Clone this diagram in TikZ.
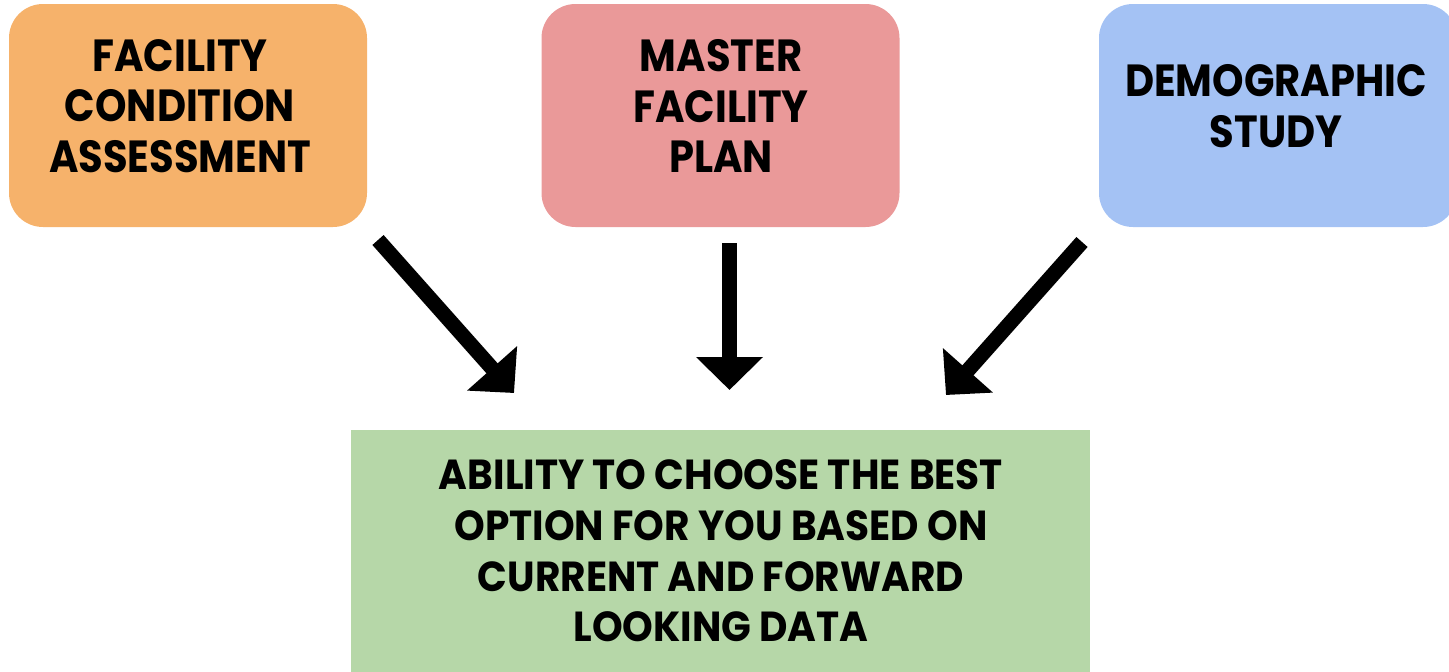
\documentclass[tikz,border=0pt]{standalone}
\usepackage{fontspec}
\setmainfont{Poppins}[BoldFont={* Bold}]
\newfontfamily\topfont{Poppins}[BoldFont={* Bold},FakeStretch=0.89]
\newfontfamily\botfont{Poppins}[BoldFont={* Bold},FakeStretch=0.93]
\usetikzlibrary{arrows.meta}
\definecolor{cOrange}{HTML}{F6B26B}
\definecolor{cPink}{HTML}{EA9999}
\definecolor{cBlue}{HTML}{A4C2F4}
\definecolor{cGreen}{HTML}{B6D7A8}
\tikzset{
  topbox/.style={rectangle, rounded corners=34pt, minimum width=358pt, minimum height=223pt, inner sep=0pt},
  toptext/.style={align=center, inner sep=0pt, font=\topfont\bfseries\fontsize{45}{50.5}\selectfont},
  bottext/.style={align=center, inner sep=0pt, font=\botfont\bfseries\fontsize{42}{50.7}\selectfont},
  blockarrow/.style={draw=black, line width=15pt, -{Triangle[width=65pt,length=33pt]}}
}
\begin{document}
\begin{tikzpicture}[x=1pt,y=-1pt]
\useasboundingbox (0,0) rectangle (1449,672);
\clip (0,0) rectangle (1449,672);
% boxes
\node[topbox, fill=cOrange] (fca) at (188,115.5) {};
\node[toptext] (fcaT) at (180,106) {FACILITY\\CONDITION\\ASSESSMENT};
\node[topbox, fill=cPink] (mfp) at (720.5,115.5) {};
\node[toptext] (mfpT) at (721,106) {MASTER\\FACILITY\\PLAN};
\node[topbox, fill=cBlue] (dem) at (1278,115.5) {};
\node[toptext] (demT) at (1276,106) {DEMOGRAPHIC\\STUDY};
\node[rectangle, fill=cGreen, minimum width=739pt, minimum height=260pt, inner sep=0pt] (res) at (720.5,560) {};
\node[bottext] (resT) at (721,551) {ABILITY TO CHOOSE THE BEST\\OPTION FOR YOU BASED ON\\CURRENT AND FORWARD\\LOOKING DATA};
% arrow coordinates
\coordinate (a1s) at (378,240);
\coordinate (a1e) at (514,393);
\coordinate (a2s) at (729.5,243);
\coordinate (a2e) at (729.5,390);
\coordinate (a3s) at (1082,242);
\coordinate (a3e) at (946,395);
\draw[blockarrow] (a1s) -- (a1e);
\draw[blockarrow] (a2s) -- (a2e);
\draw[blockarrow] (a3s) -- (a3e);
\end{tikzpicture}
\end{document}
